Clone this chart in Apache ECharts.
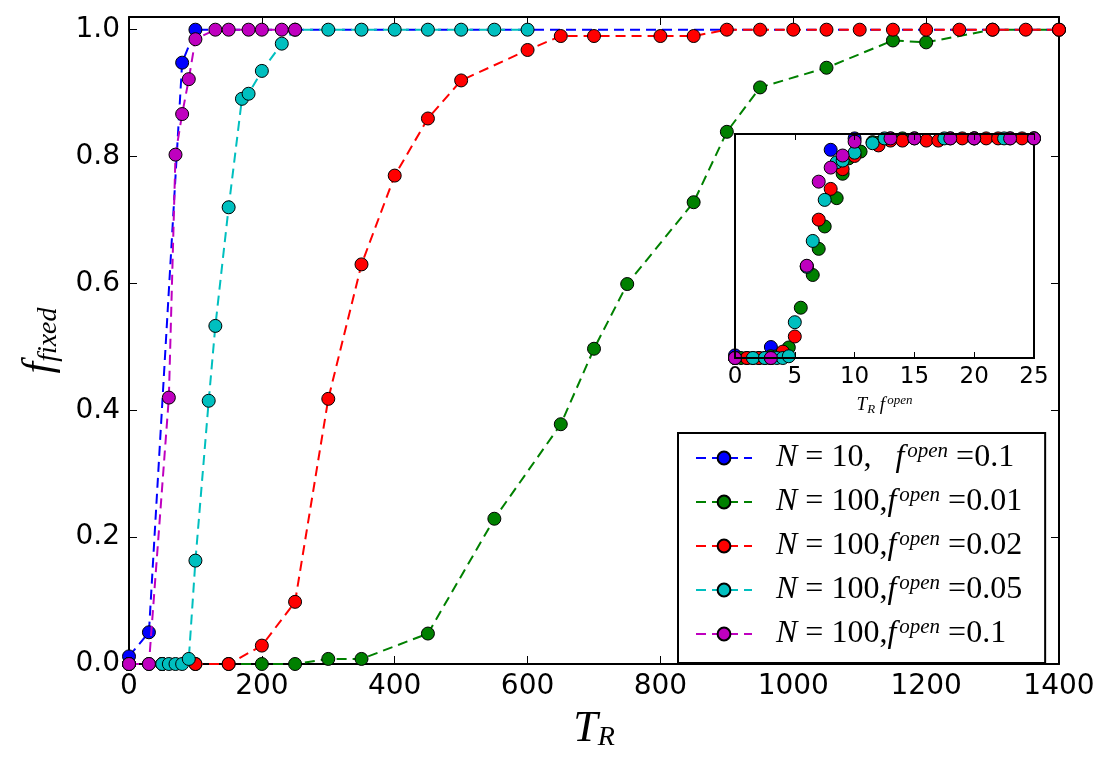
<!DOCTYPE html>
<html>
<head>
<meta charset="utf-8">
<style>
  html, body { margin: 0; padding: 0; background: #fff; }
  #main { width: 1111px; height: 773px; }
</style>
<script src="https://cdn.jsdelivr.net/npm/echarts@6/dist/echarts.min.js"></script>
</head>
<body>
<div id="main"></div>
<script>
// T_R values and fixed fractions
var tR_n10_f10 = [0, 30, 80, 100, 1400];
var ff_n10_f10 = [0.012, 0.05, 0.948, 1.0, 1.0];

var tR_n100_f01 = [0, 50, 100, 150, 200, 250, 300, 350, 450, 550, 650, 700, 750, 850, 900, 950, 1050, 1150, 1200, 1300, 1400];
var ff_n100_f01 = [0, 0, 0, 0, 0, 0, 0.008, 0.008, 0.048, 0.229, 0.378, 0.497, 0.599, 0.728, 0.839, 0.909, 0.94, 0.983, 0.98, 1.0, 1.0];

var tR_n100_f02 = [0, 50, 100, 150, 200, 250, 300, 350, 400, 450, 500, 600, 650, 700, 800, 850, 900, 950, 1000, 1050, 1100, 1150, 1200, 1250, 1300, 1350, 1400];
var ff_n100_f02 = [0, 0, 0, 0, 0.029, 0.098, 0.418, 0.63, 0.77, 0.86, 0.92, 0.968, 0.99, 0.99, 0.99, 0.99, 1, 1, 1, 1, 1, 1, 1, 1, 1, 1, 1];

var tR_n100_f05 = [0, 30, 50, 60, 70, 80, 90, 100, 120, 130, 150, 170, 180, 200, 230, 250, 300, 350, 400, 450, 500, 550, 600];
var ff_n100_f05 = [0, 0, 0, 0, 0, 0, 0.008, 0.163, 0.415, 0.533, 0.72, 0.891, 0.899, 0.935, 0.978, 1.0, 1, 1, 1, 1, 1, 1, 1];

var tR_n100_f10 = [0, 30, 60, 70, 80, 90, 100, 130, 150, 180, 200, 230, 250];
var ff_n100_f10 = [0, 0, 0.42, 0.803, 0.867, 0.922, 0.985, 1, 1, 1, 1, 1, 1];

var fOpen = [0.1, 0.01, 0.02, 0.05, 0.1];
var names = ['s1', 's2', 's3', 's4', 's5'];
var colors = ['#0000ff', '#008000', '#ff0000', '#00bfbf', '#bf00bf'];
var legendText = {
  s1: '{n0|N}{r| = 10,   }{i|f}{s|open}{r| =0.1}',
  s2: '{n0|N}{r| = 100,}{i|f}{s|open}{r| =0.01}',
  s3: '{n0|N}{r| = 100,}{i|f}{s|open}{r| =0.02}',
  s4: '{n0|N}{r| = 100,}{i|f}{s|open}{r| =0.05}',
  s5: '{n0|N}{r| = 100,}{i|f}{s|open}{r| =0.1}'
};

var allX = [tR_n10_f10, tR_n100_f01, tR_n100_f02, tR_n100_f05, tR_n100_f10];
var allY = [ff_n10_f10, ff_n100_f01, ff_n100_f02, ff_n100_f05, ff_n100_f10];

var serif = 'Liberation Serif';
var sans = 'DejaVu Sans';

function pairs(xs, ys, k) {
  var out = [];
  for (var i = 0; i < xs.length; i++) {
    out.push([+(xs[i] * k).toFixed(4), ys[i]]);
  }
  return out;
}

var series = [];
for (var i = 0; i < names.length; i++) {
  series.push({
    name: names[i],
    type: 'line',
    xAxisIndex: 0,
    yAxisIndex: 0,
    data: pairs(allX[i], allY[i], 1),
    symbol: 'circle',
    symbolSize: 13,
    showAllSymbol: true,
    z: 2 + i * 0.1,
    lineStyle: { color: colors[i], width: 2, type: [10, 6] },
    itemStyle: { color: colors[i], borderColor: '#000', borderWidth: 1 }
  });
}
// inset: same points against T_R * f_open
for (var i = 0; i < names.length; i++) {
  series.push({
    name: names[i],
    type: 'scatter',
    xAxisIndex: 2,
    yAxisIndex: 2,
    data: pairs(allX[i], allY[i], fOpen[i]),
    symbol: 'circle',
    symbolSize: 13,
    z: 7 + i * 0.1,
    itemStyle: { color: colors[i], borderColor: '#000', borderWidth: 1, opacity: 1 }
  });
}

function yLabel(v) {
  if (Math.abs(v * 5 - Math.round(v * 5)) > 1e-6) return '';
  return v.toFixed(1);
}
function xLabel(v) { return String(v); }

var tickIn = { show: true, inside: true, length: 8, lineStyle: { color: '#000', width: 1 } };
var lineBlack = { show: true, onZero: false, lineStyle: { color: '#000', width: 2 } };

var myChart = echarts.init(document.getElementById('main'), null, { renderer: 'canvas' });
var opt = {
  animation: false,
  backgroundColor: '#fff',
  grid: [
    { left: 129, right: 52, top: 17, bottom: 109, outerBoundsMode: 'none' },
    { left: 735, top: 134, width: 299, height: 224, show: true, backgroundColor: '#fff',
      borderColor: '#000', borderWidth: 2, z: 5, outerBoundsMode: 'none' }
  ],
  legend: {
    data: names,
    orient: 'vertical',
    left: 678,
    top: 433,
    z: 10,
    selectedMode: false,
    backgroundColor: '#fff',
    borderColor: '#000',
    borderWidth: 2,
    borderRadius: 0,
    padding: [8, 23, 12, 17],
    itemWidth: 56,
    itemHeight: 16,
    itemGap: 10,
    formatter: function (n) { return legendText[n]; },
    textStyle: {
      color: '#000',
      lineHeight: 34,
      rich: {
        n0: { fontFamily: serif, fontStyle: 'italic', fontSize: 32, lineHeight: 34, color: '#000', padding: [0, 0, 0, 19] },
        i: { fontFamily: serif, fontStyle: 'italic', fontSize: 32, lineHeight: 34, color: '#000' },
        r: { fontFamily: serif, fontSize: 32, lineHeight: 34, color: '#000' },
        s: { fontFamily: serif, fontStyle: 'italic', fontSize: 21, lineHeight: 20, verticalAlign: 'top',
             color: '#000', padding: [0, 0, 0, 3] }
      }
    }
  },
  xAxis: [
    {
      gridIndex: 0, type: 'value', min: 0, max: 1400, interval: 200, position: 'bottom',
      axisLine: lineBlack, axisTick: tickIn, splitLine: { show: false },
      axisLabel: { color: '#000', fontFamily: sans, fontSize: 28, margin: 9, formatter: xLabel },
      name: '{i|T}{sub|R}', nameLocation: 'middle', nameGap: 42,
      nameTextStyle: {
        color: '#000',
        rich: {
          i: { fontFamily: serif, fontStyle: 'italic', fontSize: 44, lineHeight: 46, color: '#000' },
          sub: { fontFamily: serif, fontStyle: 'italic', fontSize: 28, lineHeight: 20, verticalAlign: 'bottom', color: '#000' }
        }
      }
    },
    {
      gridIndex: 0, type: 'value', min: 0, max: 1400, interval: 200, position: 'top',
      axisLine: lineBlack, axisTick: tickIn, axisLabel: { show: false }, splitLine: { show: false }
    },
    {
      gridIndex: 1, type: 'value', min: 0, max: 25, interval: 5, position: 'bottom', z: 8,
      axisLine: lineBlack, axisTick: { show: true, inside: true, length: 6, lineStyle: { color: '#000' } },
      splitLine: { show: false },
      axisLabel: { color: '#000', fontFamily: sans, fontSize: 23, margin: 8 },
      name: '{i|T}{sub|R}{i| f}{sup|open}', nameLocation: 'middle', nameGap: 36,
      nameTextStyle: {
        color: '#000',
        rich: {
          i: { fontFamily: serif, fontStyle: 'italic', fontSize: 19, lineHeight: 22, color: '#000' },
          sub: { fontFamily: serif, fontStyle: 'italic', fontSize: 13, lineHeight: 10, verticalAlign: 'bottom', color: '#000' },
          sup: { fontFamily: serif, fontStyle: 'italic', fontSize: 13, lineHeight: 12, verticalAlign: 'top', color: '#000', padding: [0, 0, 0, 2] }
        }
      }
    },
    {
      gridIndex: 1, type: 'value', min: 0, max: 25, interval: 5, position: 'top', z: 8,
      axisLine: lineBlack, axisTick: { show: true, inside: true, length: 6, lineStyle: { color: '#000' } },
      axisLabel: { show: false }, splitLine: { show: false }
    }
  ],
  yAxis: [
    {
      gridIndex: 0, type: 'value', min: 0, max: 1.02, interval: 0.2, position: 'left',
      axisLine: lineBlack, axisTick: tickIn, splitLine: { show: false },
      axisLabel: { color: '#000', fontFamily: sans, fontSize: 28, margin: 9, formatter: yLabel },
      name: '{i|f}{sub|fixed}', nameLocation: 'middle', nameRotate: 90, nameGap: 66,
      nameTextStyle: {
        color: '#000',
        rich: {
          i: { fontFamily: serif, fontStyle: 'italic', fontSize: 42, lineHeight: 46, color: '#000' },
          sub: { fontFamily: serif, fontStyle: 'italic', fontSize: 28, lineHeight: 20, verticalAlign: 'bottom', color: '#000' }
        }
      }
    },
    {
      gridIndex: 0, type: 'value', min: 0, max: 1.02, interval: 0.2, position: 'right',
      axisLine: lineBlack, axisTick: tickIn, axisLabel: { show: false }, splitLine: { show: false }
    },
    {
      gridIndex: 1, type: 'value', min: 0, max: 1.02, interval: 0.2, position: 'left', z: 8,
      axisLine: lineBlack, axisTick: { show: false }, axisLabel: { show: false }, splitLine: { show: false }
    }
  ],
  series: series
};
myChart.setOption(opt);
</script>
</body>
</html>
